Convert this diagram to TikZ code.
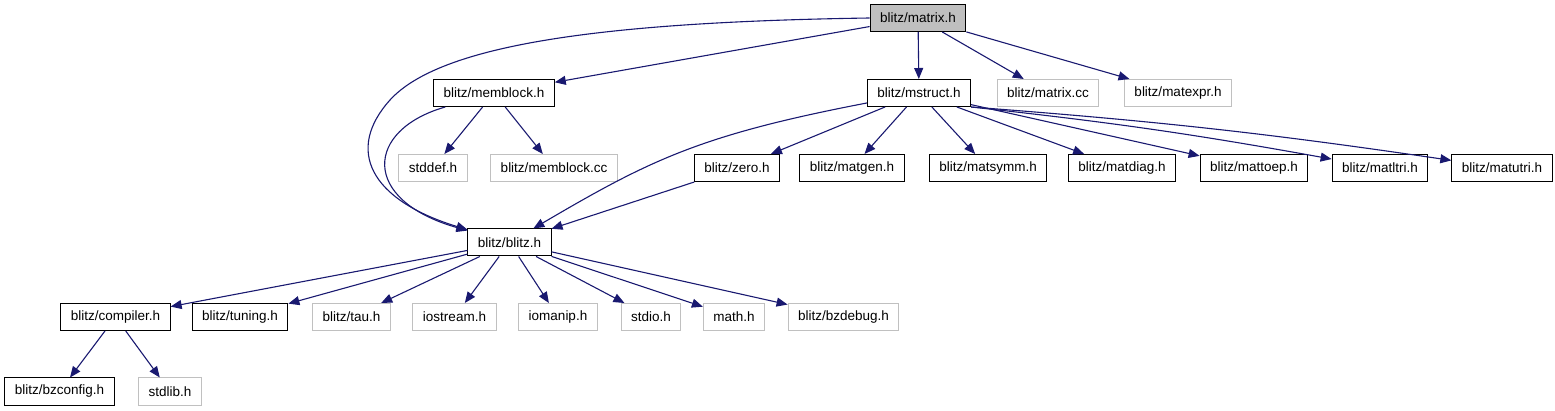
\documentclass[tikz,border=0pt]{standalone}
\usepackage{fontspec}
\setsansfont{Liberation Sans}
\usetikzlibrary{arrows.meta}
\definecolor{EdgeBlue}{HTML}{191970}
\definecolor{LightGrey}{HTML}{C0C0C0}
\definecolor{RootGrey}{HTML}{BFBFBF}

\begin{document}
\begin{tikzpicture}[x=1pt, y=-1pt, font=\sffamily\fontsize{13.5}{15}\selectfont,
    file/.style={draw=black, line width=1pt, minimum height=27pt, inner xsep=10pt, inner ysep=0pt},
    extfile/.style={file, draw=LightGrey},
    rootfile/.style={file, fill=RootGrey},
    dep/.style={EdgeBlue, line width=1.1pt, -{Triangle[length=11pt, width=9pt]}}]

\useasboundingbox (0,0) rectangle (1555,411);

% fila 0
\node[rootfile] (mtx) at (918,18) {blitz/matrix.h};

% fila 1
\node[file]    (memb)  at (494,93)  {blitz/memblock.h};
\node[file]    (mstr)  at (919,93)  {blitz/mstruct.h};
\node[extfile] (mcc)   at (1048,93) {blitz/matrix.cc};
\node[extfile] (mexpr) at (1178,93) {blitz/matexpr.h};

% fila 2
\node[extfile] (stdd)   at (433,168)  {stddef.h};
\node[extfile] (membcc) at (554,168)  {blitz/memblock.cc};
\node[file]    (zero)   at (737,168)  {blitz/zero.h};
\node[file]    (mgen)   at (852,168)  {blitz/matgen.h};
\node[file]    (msymm)  at (988,168)  {blitz/matsymm.h};
\node[file]    (mdiag)  at (1122,168) {blitz/matdiag.h};
\node[file]    (mtoep)  at (1254,168) {blitz/mattoep.h};
\node[file]    (mltri)  at (1380,168) {blitz/matltri.h};
\node[file]    (mutri)  at (1502,168) {blitz/matutri.h};

% fila 3
\node[file] (blitz) at (509.5,242.5) {blitz/blitz.h};

% fila 4
\node[file]    (comp)  at (115.5,317) {blitz/compiler.h};
\node[file]    (tun)   at (240,317)   {blitz/tuning.h};
\node[extfile] (tau)   at (351.5,317) {blitz/tau.h};
\node[extfile] (iost)  at (454.5,317) {iostream.h};
\node[extfile] (ioman) at (558,317)   {iomanip.h};
\node[extfile] (stdio) at (651,317)   {stdio.h};
\node[extfile] (math)  at (734,317)   {math.h};
\node[extfile] (bzdbg) at (843.5,317) {blitz/bzdebug.h};

% fila 5
\node[file]    (bzcfg) at (59.5,391.5) {blitz/bzconfig.h};
\node[extfile] (stdl)  at (170,391.5)  {stdlib.h};

% dependencias
\foreach \t in {memb,mstr,mcc,mexpr}
    \draw[dep] (mtx) -- (\t);
\draw[dep] (mtx.west) .. controls (600,22) and (440,45) .. (390,100)
    .. controls (345,150) and (370,200) .. (blitz);

\foreach \t in {stdd,membcc}
    \draw[dep] (memb) -- (\t);
\draw[dep] (memb) .. controls (365,130) and (360,200) .. (blitz);

\foreach \t in {zero,mgen,msymm,mdiag,mtoep}
    \draw[dep] (mstr) -- (\t);
\foreach \t in {mltri,mutri}
    \draw[dep] (mstr.south east) to[bend left=2] (\t);
\draw[dep] (mstr) .. controls (700,135) and (650,160) .. (blitz);

\draw[dep] (zero) -- (blitz);

\foreach \t in {comp,tun,tau,iost,ioman,stdio,math,bzdbg}
    \draw[dep] (blitz) -- (\t);

\foreach \t in {bzcfg,stdl}
    \draw[dep] (comp) -- (\t);

\end{tikzpicture}
\end{document}
